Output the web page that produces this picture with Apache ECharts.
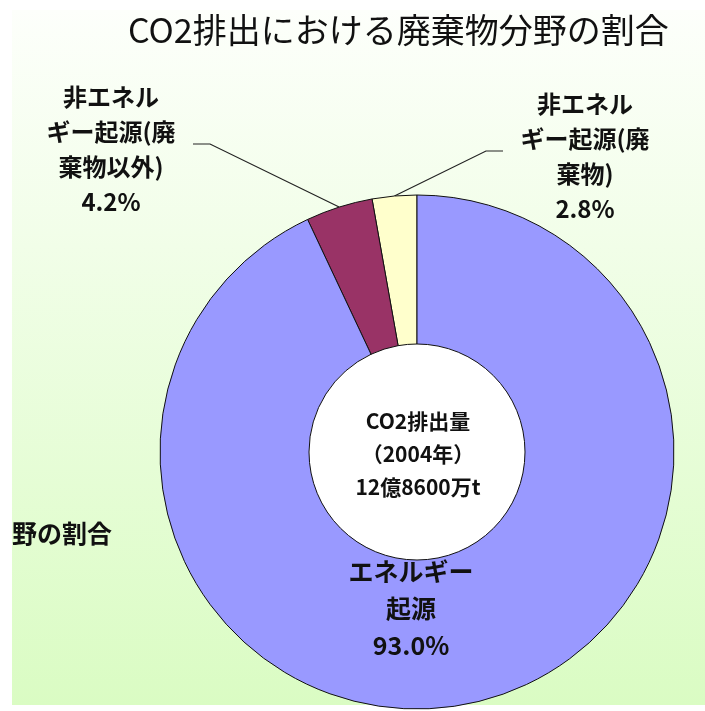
<!DOCTYPE html>
<html>
<head>
<meta charset="utf-8">
<script src="https://cdn.jsdelivr.net/npm/echarts@6/dist/echarts.min.js"></script>
<style>
  html, body { margin: 0; padding: 0; background: #fff; }
  #main { width: 705px; height: 711px; }
</style>
</head>
<body>
<div id="main"></div>
<script>
// CO2排出の内訳（2004年）
var categories = ['非エネルギー起源(廃棄物)', '非エネルギー起源(廃棄物以外)', 'エネルギー起源'];
var labelTexts = ['非エネル\nギー起源(廃\n棄物)', '非エネル\nギー起源(廃\n棄物以外)', 'エネルギー\n起源'];
var shares = [2.8, 4.2, 93.0];
var colors = ['#FFFFCC', '#993366', '#9999FF'];
var centerLines = ['CO2排出量', '（2004年）', '12億8600万t'];

var fontJP = '"Noto Sans CJK JP", "Noto Sans", sans-serif';

// ラベル位置（px）
var labelPos = [
    {x: 585, y: 156},
    {x: 111, y: 149},
    {x: 411, y: 608}
];

var chart = echarts.init(document.getElementById('main'));

var pieData = [];
for (var i = 0; i < shares.length; i++) {
    pieData.push({
        name: categories[i],
        value: shares[i],
        itemStyle: {color: colors[i]},
        labelLine: {show: i < 2},
        label: {lineHeight: i < 2 ? 35 : 37, fontSize: i < 2 ? 24 : 25}
    });
}

var option = {
    backgroundColor: '#ffffff',
    title: {
        text: 'CO2排出における廃棄物分野の割合',
        left: 123,
        top: 8,
        textStyle: {
            fontFamily: fontJP,
            fontSize: 34,
            fontWeight: 'normal',
            color: '#111'
        }
    },
    graphic: [
        {
            type: 'rect',
            z: 0,
            silent: true,
            shape: {x: 12, y: 10, width: 693, height: 695},
            style: {
                fill: new echarts.graphic.LinearGradient(0, 0, 0, 1, [
                    {offset: 0, color: '#fdfffb'},
                    {offset: 1, color: '#dafcc3'}
                ])
            }
        },
        {
            type: 'circle',
            z: 1,
            silent: true,
            shape: {cx: 417, cy: 452, r: 110},
            style: {fill: '#ffffff'}
        },
        {
            type: 'text',
            z: 3,
            silent: true,
            style: {
                x: 418,
                y: 454,
                text: centerLines.join('\n'),
                align: 'center',
                verticalAlign: 'middle',
                font: 'bold 21px ' + fontJP,
                lineHeight: 33,
                fill: '#111'
            }
        },
        {
            type: 'text',
            z: 3,
            silent: true,
            style: {
                x: 112,
                y: 533,
                text: '分野の割合',
                align: 'right',
                verticalAlign: 'middle',
                font: 'bold 25px ' + fontJP,
                fill: '#111'
            }
        },
        {
            type: 'rect',
            z: 10,
            silent: true,
            shape: {x: 0, y: 0, width: 12, height: 711},
            style: {fill: '#ffffff'}
        }
    ],
    series: [
        {
            name: 'CO2排出量',
            type: 'pie',
            z: 2,
            center: [417, 452],
            radius: [108, 257],
            startAngle: 90,
            clockwise: false,
            avoidLabelOverlap: false,
            silent: true,
            itemStyle: {
                borderColor: '#111',
                borderWidth: 1
            },
            label: {
                show: true,
                position: 'outside',
                fontFamily: fontJP,
                fontWeight: 'bold',
                color: '#111',
                formatter: function (p) {
                    return labelTexts[p.dataIndex] + '\n' + p.value.toFixed(1) + '%';
                }
            },
            labelLine: {
                length: 60,
                length2: 14,
                lineStyle: {color: '#222', width: 1.2}
            },
            labelLayout: function (params) {
                var k = params.dataIndex;
                var p = labelPos[k];
                var res = {
                    x: p.x,
                    y: p.y,
                    align: 'center',
                    verticalAlign: 'middle'
                };
                var pts = params.labelLinePoints;
                if (k < 2 && pts && pts[0]) {
                    var side = k === 0 ? -1 : 1;
                    res.labelLinePoints = [
                        [pts[0][0], pts[0][1]],
                        [p.x + side * 99, p.y - 5],
                        [p.x + side * 82, p.y - 5]
                    ];
                }
                return res;
            },
            data: pieData
        }
    ]
};

chart.setOption(option);
</script>
</body>
</html>
